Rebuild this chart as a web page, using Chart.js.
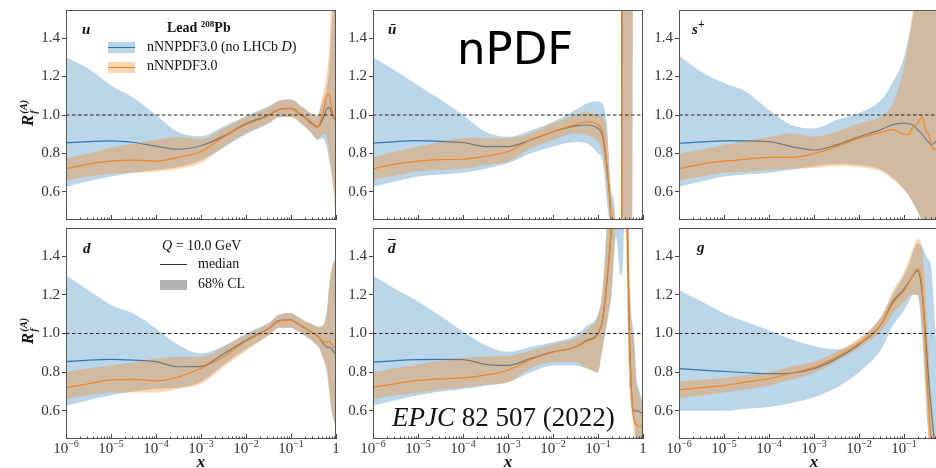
<!DOCTYPE html>
<html>
<head>
<meta charset="utf-8">
<script src="https://cdn.jsdelivr.net/npm/chart.js@4.4.1/dist/chart.umd.min.js"></script>
<style>
  html, body { margin: 0; padding: 0; background: #fff; }
  #wrap { position: relative; width: 936px; height: 468px; overflow: hidden; }
  canvas { position: absolute; }
  .t { position: absolute; white-space: nowrap; line-height: 1; font-family: 'Liberation Serif', serif; color: #111; }
  .bi { font-weight: bold; font-style: italic; }
  .patch { position: absolute; width: 27px; height: 11px; }
  .patch i { position: absolute; left: 0; right: 0; top: 5px; height: 1.4px; }
  .ytitle { transform: translate(-50%, -50%) rotate(-90deg); font-size: 17px; }
  .ss { display: inline-flex; flex-direction: column; font-size: 10.5px; line-height: 0.95; vertical-align: middle; margin-left: 1px; }
</style>
</head>
<body>
<div id="wrap">
  <canvas id="p0" width="340" height="224" style="left:0;top:0"></canvas>
  <canvas id="p1" width="310" height="224" style="left:337px;top:0"></canvas>
  <canvas id="p2" width="310" height="224" style="left:643px;top:0"></canvas>
  <canvas id="p3" width="340" height="246" style="left:0;top:222px"></canvas>
  <canvas id="p4" width="310" height="246" style="left:337px;top:222px"></canvas>
  <canvas id="p5" width="310" height="246" style="left:643px;top:222px"></canvas>

  <!-- panel labels -->
  <div class="t bi" style="left:82px;top:22px;font-size:15px">u</div>
  <div class="t bi" style="left:388px;top:22px;font-size:15px">ū</div>
  <div class="t bi" style="left:692px;top:22px;font-size:15px">s<span style="position:relative;top:-6px;font-size:12px">+</span></div>
  <div class="t bi" style="left:83px;top:241px;font-size:15px">d</div>
  <div class="t bi" style="left:388px;top:241px;font-size:15px"><span style="text-decoration:overline">d</span></div>
  <div class="t bi" style="left:697px;top:240px;font-size:15px">g</div>

  <!-- y titles -->
  <div class="t ytitle bi" style="left:29px;top:113px">R<span class="ss"><span>(A)</span><span>f</span></span></div>
  <div class="t ytitle bi" style="left:29px;top:331px">R<span class="ss"><span>(A)</span><span>f</span></span></div>

  <!-- x titles -->
  <div class="t bi" style="left:201px;top:453px;font-size:17px;transform:translateX(-50%)">x</div>
  <div class="t bi" style="left:508px;top:453px;font-size:17px;transform:translateX(-50%)">x</div>
  <div class="t bi" style="left:814px;top:453px;font-size:17px;transform:translateX(-50%)">x</div>

  <!-- legend 1 -->
  <div class="t" style="left:167px;top:21px;font-size:14px;font-weight:bold">Lead <span style="position:relative;top:-5px;font-size:9px">208</span>Pb</div>
  <div class="patch" style="left:108px;top:42px;background:rgba(31,119,180,0.3)"><i style="background:#2b77b3"></i></div>
  <div class="t" style="left:147px;top:40px;font-size:14px">nNNPDF3.0 (no LHCb <i>D</i>)</div>
  <div class="patch" style="left:108px;top:62px;background:rgba(255,127,14,0.32)"><i style="background:#f5841f"></i></div>
  <div class="t" style="left:147px;top:59px;font-size:14px">nNNPDF3.0</div>

  <!-- legend 2 -->
  <div class="t" style="left:162px;top:239px;font-size:14px"><i>Q</i> = 10.0 GeV</div>
  <div style="position:absolute;left:160px;top:264px;width:27px;height:1.3px;background:#333"></div>
  <div class="t" style="left:198px;top:257px;font-size:14px">median</div>
  <div style="position:absolute;left:160px;top:280px;width:27px;height:10px;background:#b3b3b3"></div>
  <div class="t" style="left:198px;top:277px;font-size:14px">68% CL</div>

  <!-- annotations -->
  <div class="t" style="left:457px;top:26px;font-size:45px;font-family:'DejaVu Sans',sans-serif;color:#000">nPDF</div>
  <div class="t" style="left:392px;top:404px;font-size:27px;color:#111"><i>EPJC</i> 82 507 (2022)</div>
</div>

<script>
// x grid (log10 x = -6 ... 0)
const xGrid = [1e-6, 3.16e-6, 1e-5, 3.16e-5, 1e-4, 3.16e-4, 1e-3, 3.16e-3, 0.01, 0.0316, 0.0562, 0.1,
  0.126, 0.158, 0.2, 0.251, 0.316, 0.355, 0.398, 0.501, 0.631, 0.708, 0.794, 0.891, 1];
const yTicks = [0.6, 0.8, 1.0, 1.2, 1.4];
const xTickExps = [-6, -5, -4, -3, -2, -1, 0];

// u
const uBlue     = [0.855,0.862,0.865,0.857,0.838,0.822,0.840,0.890,0.955,1.000,1.030,1.035,1.025,1.005,0.990,0.970,0.950,0.943,0.940,0.975,1.035,1.040,1.010,0.985,0.970];
const uOrange   = [0.720,0.745,0.760,0.765,0.760,0.780,0.810,0.885,0.950,0.995,1.030,1.033,1.022,1.003,0.985,0.965,0.945,0.937,0.940,1.000,1.100,1.110,1.040,0.990,0.970];
const uBlueLo   = [0.625,0.655,0.680,0.700,0.715,0.730,0.765,0.830,0.900,0.955,0.990,0.990,0.980,0.960,0.940,0.920,0.890,0.875,0.870,0.880,0.830,0.760,0.700,0.620,0.560];
const uBlueHi   = [1.300,1.240,1.155,1.090,1.000,0.910,0.890,0.940,0.995,1.045,1.075,1.080,1.070,1.050,1.035,1.015,1.000,0.995,1.000,1.070,1.150,1.250,1.450,1.600,1.700];
const uOrangeLo = [0.660,0.680,0.695,0.700,0.705,0.720,0.750,0.835,0.905,0.960,0.990,0.990,0.980,0.960,0.940,0.920,0.895,0.880,0.875,0.900,0.880,0.800,0.700,0.580,0.470];
const uOrangeHi = [0.775,0.800,0.830,0.850,0.870,0.885,0.875,0.930,0.990,1.040,1.075,1.080,1.070,1.050,1.035,1.015,1.000,0.995,1.000,1.100,1.220,1.350,1.600,1.800,1.900];

// ubar
const ubBlue     = [0.853,0.862,0.867,0.863,0.857,0.836,0.836,0.870,0.913,0.943,0.948,0.930,0.890,0.720,0.350,-1,-3,4,4,4,4,4,4,4,4];
const ubOrange   = [0.720,0.745,0.760,0.768,0.770,0.786,0.810,0.870,0.913,0.950,0.965,0.950,0.910,0.740,0.350,-1,-3,4,4,4,4,4,4,4,4];
const ubBlueLo   = [0.626,0.655,0.680,0.690,0.700,0.720,0.750,0.800,0.836,0.860,0.853,0.800,0.760,0.550,0.100,-2,-5,-5,-5,-5,3,3,3,3,3];
const ubBlueHi   = [1.300,1.230,1.155,1.080,1.000,0.913,0.887,0.920,0.965,1.026,1.060,1.070,1.060,0.950,0.600,0.400,-3,6,6,6,8,8,8,8,8];
const ubOrangeLo = [0.663,0.685,0.706,0.714,0.720,0.740,0.757,0.826,0.870,0.905,0.895,0.860,0.800,0.600,0.200,-2,-5,-5,-5,-5,3,3,3,3,3];
const ubOrangeHi = [0.780,0.810,0.836,0.860,0.880,0.880,0.880,0.905,0.957,1.000,1.017,1.000,0.990,0.900,0.550,0.350,-3,6,6,6,8,8,8,8,8];

// s+
const sBlue     = [0.853,0.860,0.865,0.865,0.862,0.836,0.818,0.845,0.887,0.925,0.950,0.958,0.956,0.948,0.925,0.900,0.870,0.858,0.845,0.860,0.880,0.880,0.880,0.880,0.880];
const sOrange   = [0.720,0.745,0.760,0.770,0.780,0.780,0.800,0.836,0.880,0.910,0.925,0.900,0.900,0.940,0.955,0.990,0.910,0.900,0.850,0.820,0.840,0.850,0.850,0.850,0.850];
const sBlueLo   = [0.627,0.655,0.680,0.690,0.700,0.715,0.733,0.745,0.740,0.715,0.675,0.615,0.585,0.545,0.500,0.450,0.400,0.370,0.340,0.300,0.250,0.200,0.200,0.200,0.200];
const sBlueHi   = [1.310,1.225,1.166,1.120,1.026,0.948,0.930,0.974,1.010,1.080,1.170,1.300,1.400,1.510,1.700,2.000,2.500,2.500,2.500,2.500,2.500,2.500,2.500,2.500,2.500];
const sOrangeLo = [0.660,0.680,0.700,0.705,0.715,0.720,0.725,0.735,0.730,0.705,0.665,0.610,0.580,0.540,0.500,0.440,0.390,0.360,0.330,0.280,0.200,0.200,0.200,0.200,0.200];
const sOrangeHi = [0.800,0.820,0.845,0.865,0.887,0.905,0.887,0.913,0.957,0.995,1.060,1.250,1.380,1.560,1.800,2.000,2.400,2.400,2.400,2.400,2.400,2.400,2.400,2.400,2.400];

// d
const dBlue     = [0.854,0.862,0.866,0.862,0.854,0.828,0.830,0.895,0.965,1.026,1.068,1.070,1.058,1.042,1.030,1.015,1.000,0.993,0.985,0.955,0.930,0.930,0.920,0.905,0.895];
const dOrange   = [0.720,0.740,0.760,0.763,0.755,0.775,0.820,0.880,0.960,1.026,1.065,1.068,1.056,1.042,1.030,1.015,1.000,0.993,0.985,0.960,0.955,0.960,0.945,0.930,0.925];
const dBlueLo   = [0.627,0.655,0.680,0.700,0.714,0.720,0.750,0.840,0.920,0.990,1.030,1.030,1.020,1.005,0.990,0.975,0.955,0.945,0.935,0.880,0.800,0.700,0.600,0.550,0.520];
const dBlueHi   = [1.300,1.225,1.147,1.104,1.026,0.940,0.896,0.935,1.000,1.055,1.100,1.105,1.095,1.080,1.065,1.055,1.045,1.040,1.035,1.040,1.120,1.250,1.330,1.370,1.380];
const dOrangeLo = [0.660,0.680,0.695,0.695,0.695,0.714,0.740,0.826,0.910,0.990,1.030,1.030,1.020,1.005,0.990,0.975,0.955,0.945,0.935,0.880,0.800,0.700,0.600,0.550,0.520];
const dOrangeHi = [0.800,0.820,0.835,0.850,0.870,0.880,0.880,0.930,0.995,1.050,1.100,1.105,1.095,1.080,1.065,1.055,1.045,1.040,1.035,1.040,1.120,1.250,1.330,1.370,1.380];

// dbar
const dbBlue     = [0.852,0.860,0.865,0.866,0.865,0.840,0.835,0.870,0.905,0.930,0.965,1.000,1.070,1.270,1.600,2.500,3.000,3.000,2.200,0.980,0.600,0.600,0.600,0.590,0.590];
const dbOrange   = [0.722,0.740,0.757,0.765,0.770,0.785,0.810,0.865,0.903,0.930,0.960,0.995,1.070,1.280,1.600,2.500,3.000,3.000,2.200,0.970,0.550,0.530,0.520,0.520,0.530];
const dbBlueLo   = [0.627,0.655,0.680,0.700,0.713,0.730,0.748,0.800,0.835,0.835,0.820,0.800,0.920,1.050,1.200,1.500,1.300,1.350,1.700,0.720,0.550,0.420,0.360,0.320,0.300];
const dbBlueHi   = [1.300,1.230,1.165,1.090,1.010,0.940,0.905,0.930,0.955,0.990,1.040,1.100,1.230,1.600,2.200,4.000,5.000,5.000,4.000,1.320,1.000,0.780,0.720,0.680,0.660];
const dbOrangeLo = [0.660,0.680,0.695,0.710,0.720,0.735,0.748,0.818,0.852,0.852,0.820,0.795,0.930,1.060,1.220,1.600,2.000,2.000,1.700,0.780,0.500,0.400,0.350,0.300,0.300];
const dbOrangeHi = [0.800,0.820,0.840,0.860,0.875,0.880,0.885,0.910,0.945,0.975,1.020,1.090,1.210,1.550,2.100,4.000,5.000,5.000,4.000,1.300,0.950,0.750,0.700,0.660,0.640];

// g
const gBlue     = [0.818,0.810,0.804,0.797,0.792,0.795,0.818,0.870,0.943,1.050,1.165,1.230,1.265,1.300,1.325,1.220,0.920,0.750,0.620,0.400,0.300,0.300,0.300,0.300,0.300];
const gOrange   = [0.708,0.720,0.730,0.750,0.766,0.795,0.826,0.880,0.948,1.050,1.155,1.220,1.260,1.300,1.335,1.250,0.820,0.620,0.450,0.300,0.250,0.250,0.250,0.250,0.250];
const gBlueLo   = [0.600,0.600,0.600,0.610,0.620,0.640,0.670,0.720,0.800,0.920,1.040,1.120,1.160,1.200,1.200,1.000,0.600,0.450,0.300,0.100,0.000,0.000,0.000,0.000,0.000];
const gBlueHi   = [1.225,1.165,1.104,1.060,1.017,0.970,0.935,0.918,0.965,1.090,1.200,1.300,1.350,1.420,1.470,1.450,1.400,1.380,1.350,1.000,0.600,0.500,0.500,0.500,0.500];
const gOrangeLo = [0.665,0.680,0.695,0.710,0.730,0.760,0.795,0.855,0.925,1.015,1.100,1.160,1.190,1.200,1.200,1.050,0.650,0.450,0.300,0.100,0.000,0.000,0.000,0.000,0.000];
const gOrangeHi = [0.750,0.760,0.770,0.785,0.800,0.830,0.855,0.905,0.975,1.090,1.220,1.320,1.380,1.440,1.490,1.450,1.100,0.900,0.700,0.450,0.300,0.300,0.300,0.300,0.300];

const BLUE = '#2b77b3', ORANGE = '#f5841f';
const BLUE_BAND = 'rgba(31,119,180,0.3)', ORANGE_BAND = 'rgba(255,127,14,0.32)';
const SERIF = "'Liberation Serif', serif";

const panels = [
  { id: 'p0', row: 0, yw: 66, blue: uBlue,  orange: uOrange,  bLo: uBlueLo,  bHi: uBlueHi,  oLo: uOrangeLo,  oHi: uOrangeHi },
  { id: 'p1', row: 0, yw: 36, blue: ubBlue, orange: ubOrange, bLo: ubBlueLo, bHi: ubBlueHi, oLo: ubOrangeLo, oHi: ubOrangeHi },
  { id: 'p2', row: 0, yw: 36, blue: sBlue,  orange: sOrange,  bLo: sBlueLo,  bHi: sBlueHi,  oLo: sOrangeLo,  oHi: sOrangeHi },
  { id: 'p3', row: 1, yw: 66, blue: dBlue,  orange: dOrange,  bLo: dBlueLo,  bHi: dBlueHi,  oLo: dOrangeLo,  oHi: dOrangeHi },
  { id: 'p4', row: 1, yw: 36, blue: dbBlue, orange: dbOrange, bLo: dbBlueLo, bHi: dbBlueHi, oLo: dbOrangeLo, oHi: dbOrangeHi },
  { id: 'p5', row: 1, yw: 36, blue: gBlue,  orange: gOrange,  bLo: gBlueLo,  bHi: gBlueHi,  oLo: gOrangeLo,  oHi: gOrangeHi },
];

function series(arr) {
  return xGrid.map((x, i) => ({ x: x, y: arr[i] }));
}

// frame, inward log ticks on the bottom axis, and 10^k labels for the lower row
const framePlugin = {
  id: 'frame',
  afterDatasetsDraw(chart, args, opts) {
    const { ctx, chartArea: a, scales: { x } } = chart;
    ctx.save();
    ctx.strokeStyle = '#555';
    ctx.lineWidth = 1;
    ctx.strokeRect(a.left + 0.5, a.top + 0.5, a.right - a.left - 1, a.bottom - a.top - 1);

    ctx.strokeStyle = '#444';
    ctx.beginPath();
    for (let k = -6; k <= 0; k++) {
      for (let m = 1; m <= 9; m++) {
        if (k === 0 && m > 1) break;
        const px = Math.round(x.getPixelForValue(m * Math.pow(10, k))) + 0.5;
        const len = m === 1 ? 5 : 2.5;
        ctx.moveTo(px, a.bottom);
        ctx.lineTo(px, a.bottom - len);
      }
    }
    ctx.stroke();

    if (opts.xLabels) {
      ctx.fillStyle = '#333';
      ctx.textAlign = 'left';
      ctx.textBaseline = 'alphabetic';
      xTickExps.forEach(e => {
        const px = x.getPixelForValue(Math.pow(10, e));
        ctx.font = '15px ' + SERIF;
        if (e === 0) {
          const w = ctx.measureText('1').width;
          ctx.fillText('1', px - w / 2, a.bottom + 14);
          return;
        }
        const w1 = ctx.measureText('10').width;
        const sup = '\u2212' + (-e);
        ctx.font = '10px ' + SERIF;
        const w2 = ctx.measureText(sup).width;
        const x0 = px - (w1 + w2) / 2;
        ctx.font = '15px ' + SERIF;
        ctx.fillText('10', x0, a.bottom + 14);
        ctx.font = '10px ' + SERIF;
        ctx.fillText(sup, x0 + w1, a.bottom + 8);
      });
    }
    ctx.restore();
  }
};

function makePanel(p) {
  const line = { pointRadius: 0, cubicInterpolationMode: 'monotone' };
  const hidden = { borderWidth: 0, borderColor: 'rgba(0,0,0,0)' };
  const pad = p.row === 0 ? { top: 10, bottom: 4, left: 0, right: 4 } : { top: 6, bottom: 29, left: 0, right: 4 };

  new Chart(document.getElementById(p.id), {
    type: 'line',
    data: {
      datasets: [
        { ...line, ...hidden, data: series(p.bLo), fill: false, order: 7 },
        { ...line, ...hidden, data: series(p.bHi), fill: '-1', backgroundColor: BLUE_BAND, order: 6 },
        { ...line, data: series(p.blue), borderColor: BLUE, borderWidth: 1.2, fill: false, order: 5 },
        { ...line, ...hidden, data: series(p.oLo), fill: false, order: 4 },
        { ...line, ...hidden, data: series(p.oHi), fill: '-1', backgroundColor: ORANGE_BAND, order: 3 },
        { ...line, data: series(p.orange), borderColor: ORANGE, borderWidth: 1.2, fill: false, order: 2 },
        { data: [{ x: 1e-6, y: 1 }, { x: 1, y: 1 }], borderColor: '#222', borderWidth: 1,
          borderDash: [3.5, 2.5], pointRadius: 0, fill: false, order: 1 },
      ],
    },
    options: {
      responsive: false,
      animation: false,
      events: [],
      layout: { padding: pad },
      plugins: {
        legend: { display: false },
        tooltip: { enabled: false },
        frame: { xLabels: p.row === 1 },
      },
      scales: {
        x: { type: 'logarithmic', min: 1e-6, max: 1, display: false },
        y: {
          type: 'linear',
          min: 0.454,
          max: 1.546,
          afterBuildTicks: s => { s.ticks = yTicks.map(v => ({ value: v })); },
          afterFit: s => { s.width = p.yw; s.paddingTop = 0; s.paddingBottom = 0; },
          ticks: {
            callback: v => Number(v).toFixed(1),
            font: { family: SERIF, size: 15 },
            color: '#333',
            padding: 2,
          },
          grid: { drawOnChartArea: false, drawTicks: true, tickLength: 4, color: '#444', lineWidth: 1 },
          border: { display: false },
        },
      },
    },
    plugins: [framePlugin],
  });
}

panels.forEach(makePanel);
</script>
</body>
</html>
